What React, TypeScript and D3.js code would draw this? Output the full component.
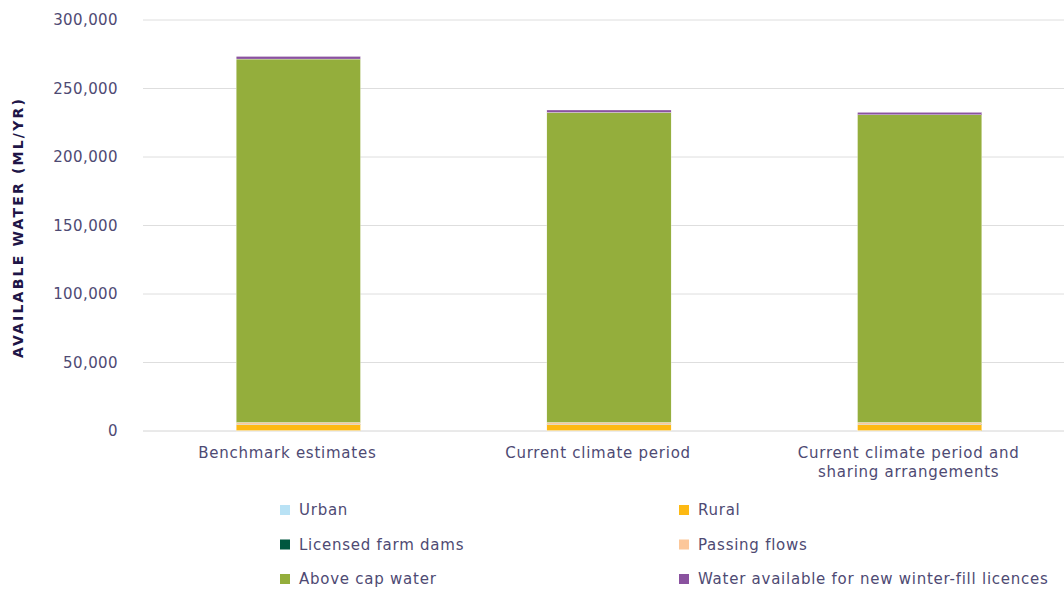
import React from "react";
import * as d3 from "d3";

const categories = [
  ["Benchmark estimates"],
  ["Current climate period"],
  ["Current climate period and", "sharing arrangements"],
];
const seriesNames = [
  "Urban",
  "Rural",
  "Licensed farm dams",
  "Passing flows",
  "Above cap water",
  "Water available for new winter-fill licences",
];
const seriesColors = ["#b9e2f5", "#fdb913", "#00573f", "#fcc79a", "#94ae3c", "#8a529f"];
const urban = [300, 300, 300];
const rural = [4500, 4500, 4500];
const farmDams = [200, 200, 200];
const passingFlows = [1200, 1200, 1200];
const aboveCap = [265300, 226300, 224600];
const winterFill = [1900, 1800, 1800];
const yTicks = [0, 50000, 100000, 150000, 200000, 250000, 300000];

const W = 1064;
const H = 590;
const margin = { left: 143, right: -11, top: 20, bottom: 159 };
const textColor = "#4e4a73";
const font = "'DejaVu Sans', sans-serif";
const tickSpacing = 0.4;
const labelSpacing = 0.75;
// category labels sit slightly left of the bar centres
const labelShift = -11;

export default function App() {
  const values = [urban, rural, farmDams, passingFlows, aboveCap, winterFill];
  const rows = categories.map((_, i) => {
    const r: Record<string, number> = { idx: i };
    seriesNames.forEach((s, k) => (r[s] = values[k][i]));
    return r;
  });
  const stacked = d3.stack<Record<string, number>>().keys(seriesNames)(rows);

  const x = d3
    .scaleBand<number>()
    .domain(categories.map((_, i) => i))
    .range([margin.left, W - margin.right])
    .paddingInner(0.6)
    .paddingOuter(0.3);
  const y = d3.scaleLinear().domain([0, 300000]).range([H - margin.bottom, margin.top]);
  const fmt = d3.format(",");

  return (
    <svg width={W} height={H} style={{ position: "absolute", left: 0, top: 0 }}>
      <rect width={W} height={H} fill="#fff" />
      {yTicks.map((t) => (
        <g key={t}>
          <line x1={margin.left} x2={W} y1={y(t)} y2={y(t)} stroke={t === 0 ? "#d4d4d4" : "#dedede"} strokeWidth={1} />
          <text x={118} y={y(t)} dy="0.35em" textAnchor="end" fontFamily={font} fontSize={15} letterSpacing={tickSpacing} fill={textColor}>
            {fmt(t)}
          </text>
        </g>
      ))}
      <text
        transform={`translate(23,${(y(0) + y(300000)) / 2 + 2}) rotate(-90)`}
        textAnchor="middle"
        fontFamily={font}
        fontSize={14}
        fontWeight={700}
        letterSpacing={2.2}
        fill="#201547"
      >
        AVAILABLE WATER (ML/YR)
      </text>
      {stacked.map((layer, k) => (
        <g key={layer.key} fill={seriesColors[k]}>
          {layer.map((d, i) => (
            <rect
              key={i}
              x={x(i)}
              width={x.bandwidth()}
              y={y(d[1])}
              height={Math.max(0, y(d[0]) - y(d[1]))}
              stroke="#fff"
              strokeWidth={0.3}
            />
          ))}
        </g>
      ))}
      {categories.map((lines, i) => {
        const cx = (x(i) as number) + x.bandwidth() / 2 + labelShift;
        return (
          <text
            key={i}
            x={cx}
            y={458}
            textAnchor="middle"
            fontFamily={font}
            fontSize={15}
            letterSpacing={labelSpacing}
            fill={textColor}
          >
            {lines.map((l, j) => (
              <tspan key={j} x={cx} dy={j === 0 ? 0 : 19}>
                {l}
              </tspan>
            ))}
          </text>
        );
      })}
      {seriesNames.map((s, k) => {
        const col = k % 2;
        const row = Math.floor(k / 2);
        const lx = col === 0 ? 280 : 679;
        const ly = 510 + row * 34.5;
        return (
          <g key={s}>
            <rect x={lx} y={ly - 5} width={10} height={10} fill={seriesColors[k]} />
            <text x={lx + 19} y={ly} dy="0.35em" fontFamily={font} fontSize={15} letterSpacing={labelSpacing} fill={textColor}>
              {s}
            </text>
          </g>
        );
      })}
    </svg>
  );
}
